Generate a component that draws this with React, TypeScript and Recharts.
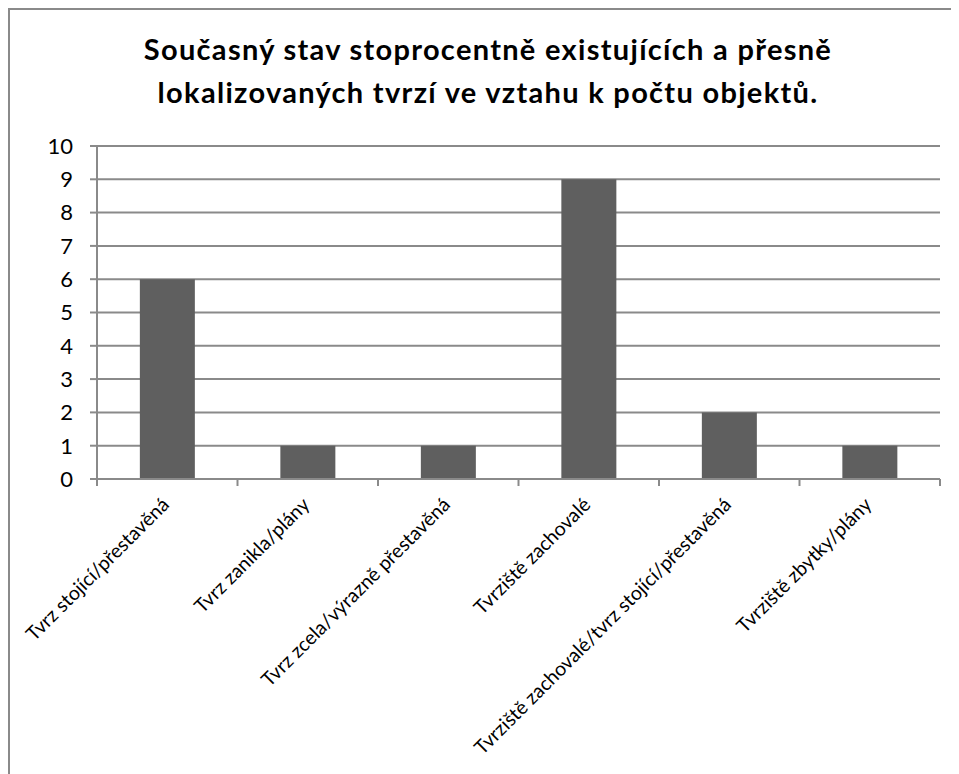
import { Bar, BarChart, CartesianGrid, XAxis, YAxis } from "recharts";

const categories = [
  "Tvrz stojící/přestavěná",
  "Tvrz zanikla/plány",
  "Tvrz zcela/výrazně přestavěná",
  "Tvrziště zachovalé",
  "Tvrziště zachovalé/tvrz stojící/přestavěná",
  "Tvrziště zbytky/plány",
];
const counts = [6, 1, 1, 9, 2, 1];
const yTicks = [0, 1, 2, 3, 4, 5, 6, 7, 8, 9, 10];
const titleLines = [
  "Současný stav stoprocentně existujících a přesně",
  "lokalizovaných tvrzí ve vztahu k počtu objektů.",
];

const data = categories.map((name, i) => ({ name, count: counts[i] }));

const W = 949;
const H = 764;
const margin = { top: 136, right: 19, left: 27, bottom: 5 };
const Y_AXIS_W = 60;
const X_AXIS_H = 290;
const plotW = W - margin.left - margin.right - Y_AXIS_W;
const band = plotW / categories.length;

const GRAY = "#8a8a8a";
const FONT = "Lato, 'Open Sans', sans-serif";

function CategoryTick(props: any) {
  const { x, y, payload, index } = props;
  const last = index === categories.length - 1;
  const ax = x + 3;
  const ay = y + 27;
  return (
    <g>
      <line x1={x - band / 2} y1={y} x2={x - band / 2} y2={y + 7} stroke={GRAY} strokeWidth={2} />
      {last && <line x1={x + band / 2} y1={y} x2={x + band / 2} y2={y + 7} stroke={GRAY} strokeWidth={2} />}
      <text
        x={ax}
        y={ay}
        textAnchor="end"
        transform={`rotate(-45 ${ax} ${ay})`}
        fontSize={19.5}
        fontFamily={FONT}
        fill="#000"
      >
        {payload.value}
      </text>
    </g>
  );
}

export default function App() {
  return (
    <div
      style={{
        position: "relative",
        width: W,
        height: H,
        borderLeft: `2px solid ${GRAY}`,
        borderTop: `2px solid ${GRAY}`,
        background: "#fff",
      }}
    >
      <div
        style={{
          position: "absolute",
          left: 0,
          top: 17,
          width: W,
          paddingLeft: 7,
          boxSizing: "border-box",
          textAlign: "center",
          fontFamily: FONT,
          fontWeight: 700,
          fontSize: 29,
          letterSpacing: 1.3,
          lineHeight: "43px",
          color: "#000",
        }}
      >
        {titleLines.map((l) => (
          <div key={l}>{l}</div>
        ))}
      </div>
      <BarChart width={W} height={H} data={data} margin={margin} barCategoryGap="30.5%">
        <CartesianGrid vertical={false} stroke={GRAY} strokeWidth={2} />
        <XAxis
          dataKey="name"
          interval={0}
          height={X_AXIS_H}
          axisLine={{ stroke: GRAY, strokeWidth: 2 }}
          tickLine={false}
          tickSize={0}
          tickMargin={0}
          tick={<CategoryTick />}
        />
        <YAxis
          domain={[0, 10]}
          ticks={yTicks}
          width={Y_AXIS_W}
          axisLine={{ stroke: GRAY, strokeWidth: 2 }}
          tickLine={{ stroke: GRAY, strokeWidth: 2 }}
          tickSize={7}
          tickMargin={17}
          tick={{ fontSize: 22, fontFamily: FONT, fill: "#000" }}
        />
        <Bar dataKey="count" fill="#5f5f5f" isAnimationActive={false} />
      </BarChart>
    </div>
  );
}
